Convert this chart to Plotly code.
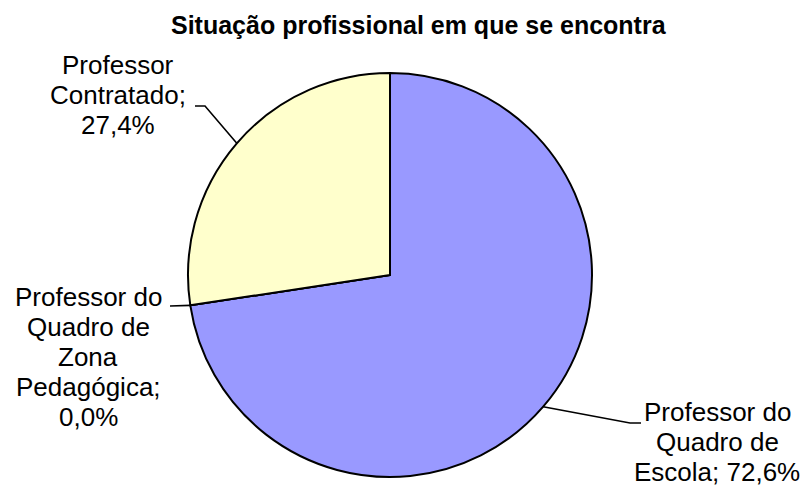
import math
import plotly.graph_objects as go

# ---- data ----
categories = ["Professor do Quadro de Escola",
              "Professor do Quadro de Zona Pedagógica",
              "Professor Contratado"]
values = [72.6, 0.0, 27.4]
colors = ["#9999FF", "#9999FF", "#FFFFCC"]
# how each category name is broken over lines in the label
name_lines = [["Professor do", "Quadro de", "Escola;"],
              ["Professor do", "Quadro de", "Zona", "Pedagógica;"],
              ["Professor", "Contratado;"]]
pct_on_own_line = [False, True, True]
title = "Situação profissional em que se encontra"

# ---- layout (pixels of the 808x486 window) ----
WIN_W, WIN_H = 808, 486
OFF = 8  # default page body margin
W, H = WIN_W - OFF, WIN_H - OFF
CX, CY, R = 390, 275, 202
label_centers = [(717, 442), (88, 357), (118, 95)]
# elbow/end points of the leader lines for each label
leader_pts = [[(630, 423), (641, 423)],
              [(170, 306)],
              [(205, 106), (195, 106)]]
FONT = "Liberation Sans, Arial, sans-serif"
LABEL_SIZE = 26
LINE_H = 30


def px(x):
    return (x - OFF) / W


def py(y):
    return 1 - (y - OFF) / H


fig = go.Figure(go.Pie(
    labels=categories,
    values=values,
    sort=False,
    direction="clockwise",
    rotation=0,
    marker=dict(colors=colors, line=dict(color="black", width=2)),
    textinfo="none",
    hoverinfo="label+percent",
    showlegend=False,
    domain=dict(x=[px(CX - R), px(CX + R)], y=[py(CY + R), py(CY - R)]),
))

annotations = []
shapes = []
total = sum(values)
cum = 0.0
for i, v in enumerate(values):
    mid = (cum + v / 2) / total * 360.0
    cum += v
    pct = f"{v / total * 100:.1f}%".replace(".", ",")
    lines = list(name_lines[i])
    if pct_on_own_line[i]:
        lines.append(pct)
    else:
        lines[-1] = lines[-1] + " " + pct
    lx, ly = label_centers[i]
    n = len(lines)
    for k, t in enumerate(lines):
        yy = ly + (k - (n - 1) / 2) * LINE_H
        annotations.append(dict(
            text=t, x=px(lx), y=py(yy), xref="paper", yref="paper",
            xanchor="center", yanchor="middle", showarrow=False,
            font=dict(family=FONT, size=LABEL_SIZE, color="black")))
    # leader line from slice edge (mid angle) to label
    ax = CX + R * math.sin(math.radians(mid))
    ay = CY - R * math.cos(math.radians(mid))
    pts = [(ax, ay)] + leader_pts[i]
    path = "M " + " L ".join(f"{px(x):.5f},{py(y):.5f}" for x, y in pts)
    shapes.append(dict(type="path", path=path, xref="paper", yref="paper",
                       line=dict(color="black", width=1.6)))

annotations.append(dict(
    text=f"<b>{title}</b>", x=px(419), y=py(25), xref="paper", yref="paper",
    xanchor="center", yanchor="middle", showarrow=False,
    font=dict(family=FONT, size=25, color="black")))

fig.update_layout(
    width=W, height=H,
    margin=dict(l=0, r=0, t=0, b=0),
    paper_bgcolor="white", plot_bgcolor="white",
    annotations=annotations,
    shapes=shapes,
)

fig.write_html("out.html")
